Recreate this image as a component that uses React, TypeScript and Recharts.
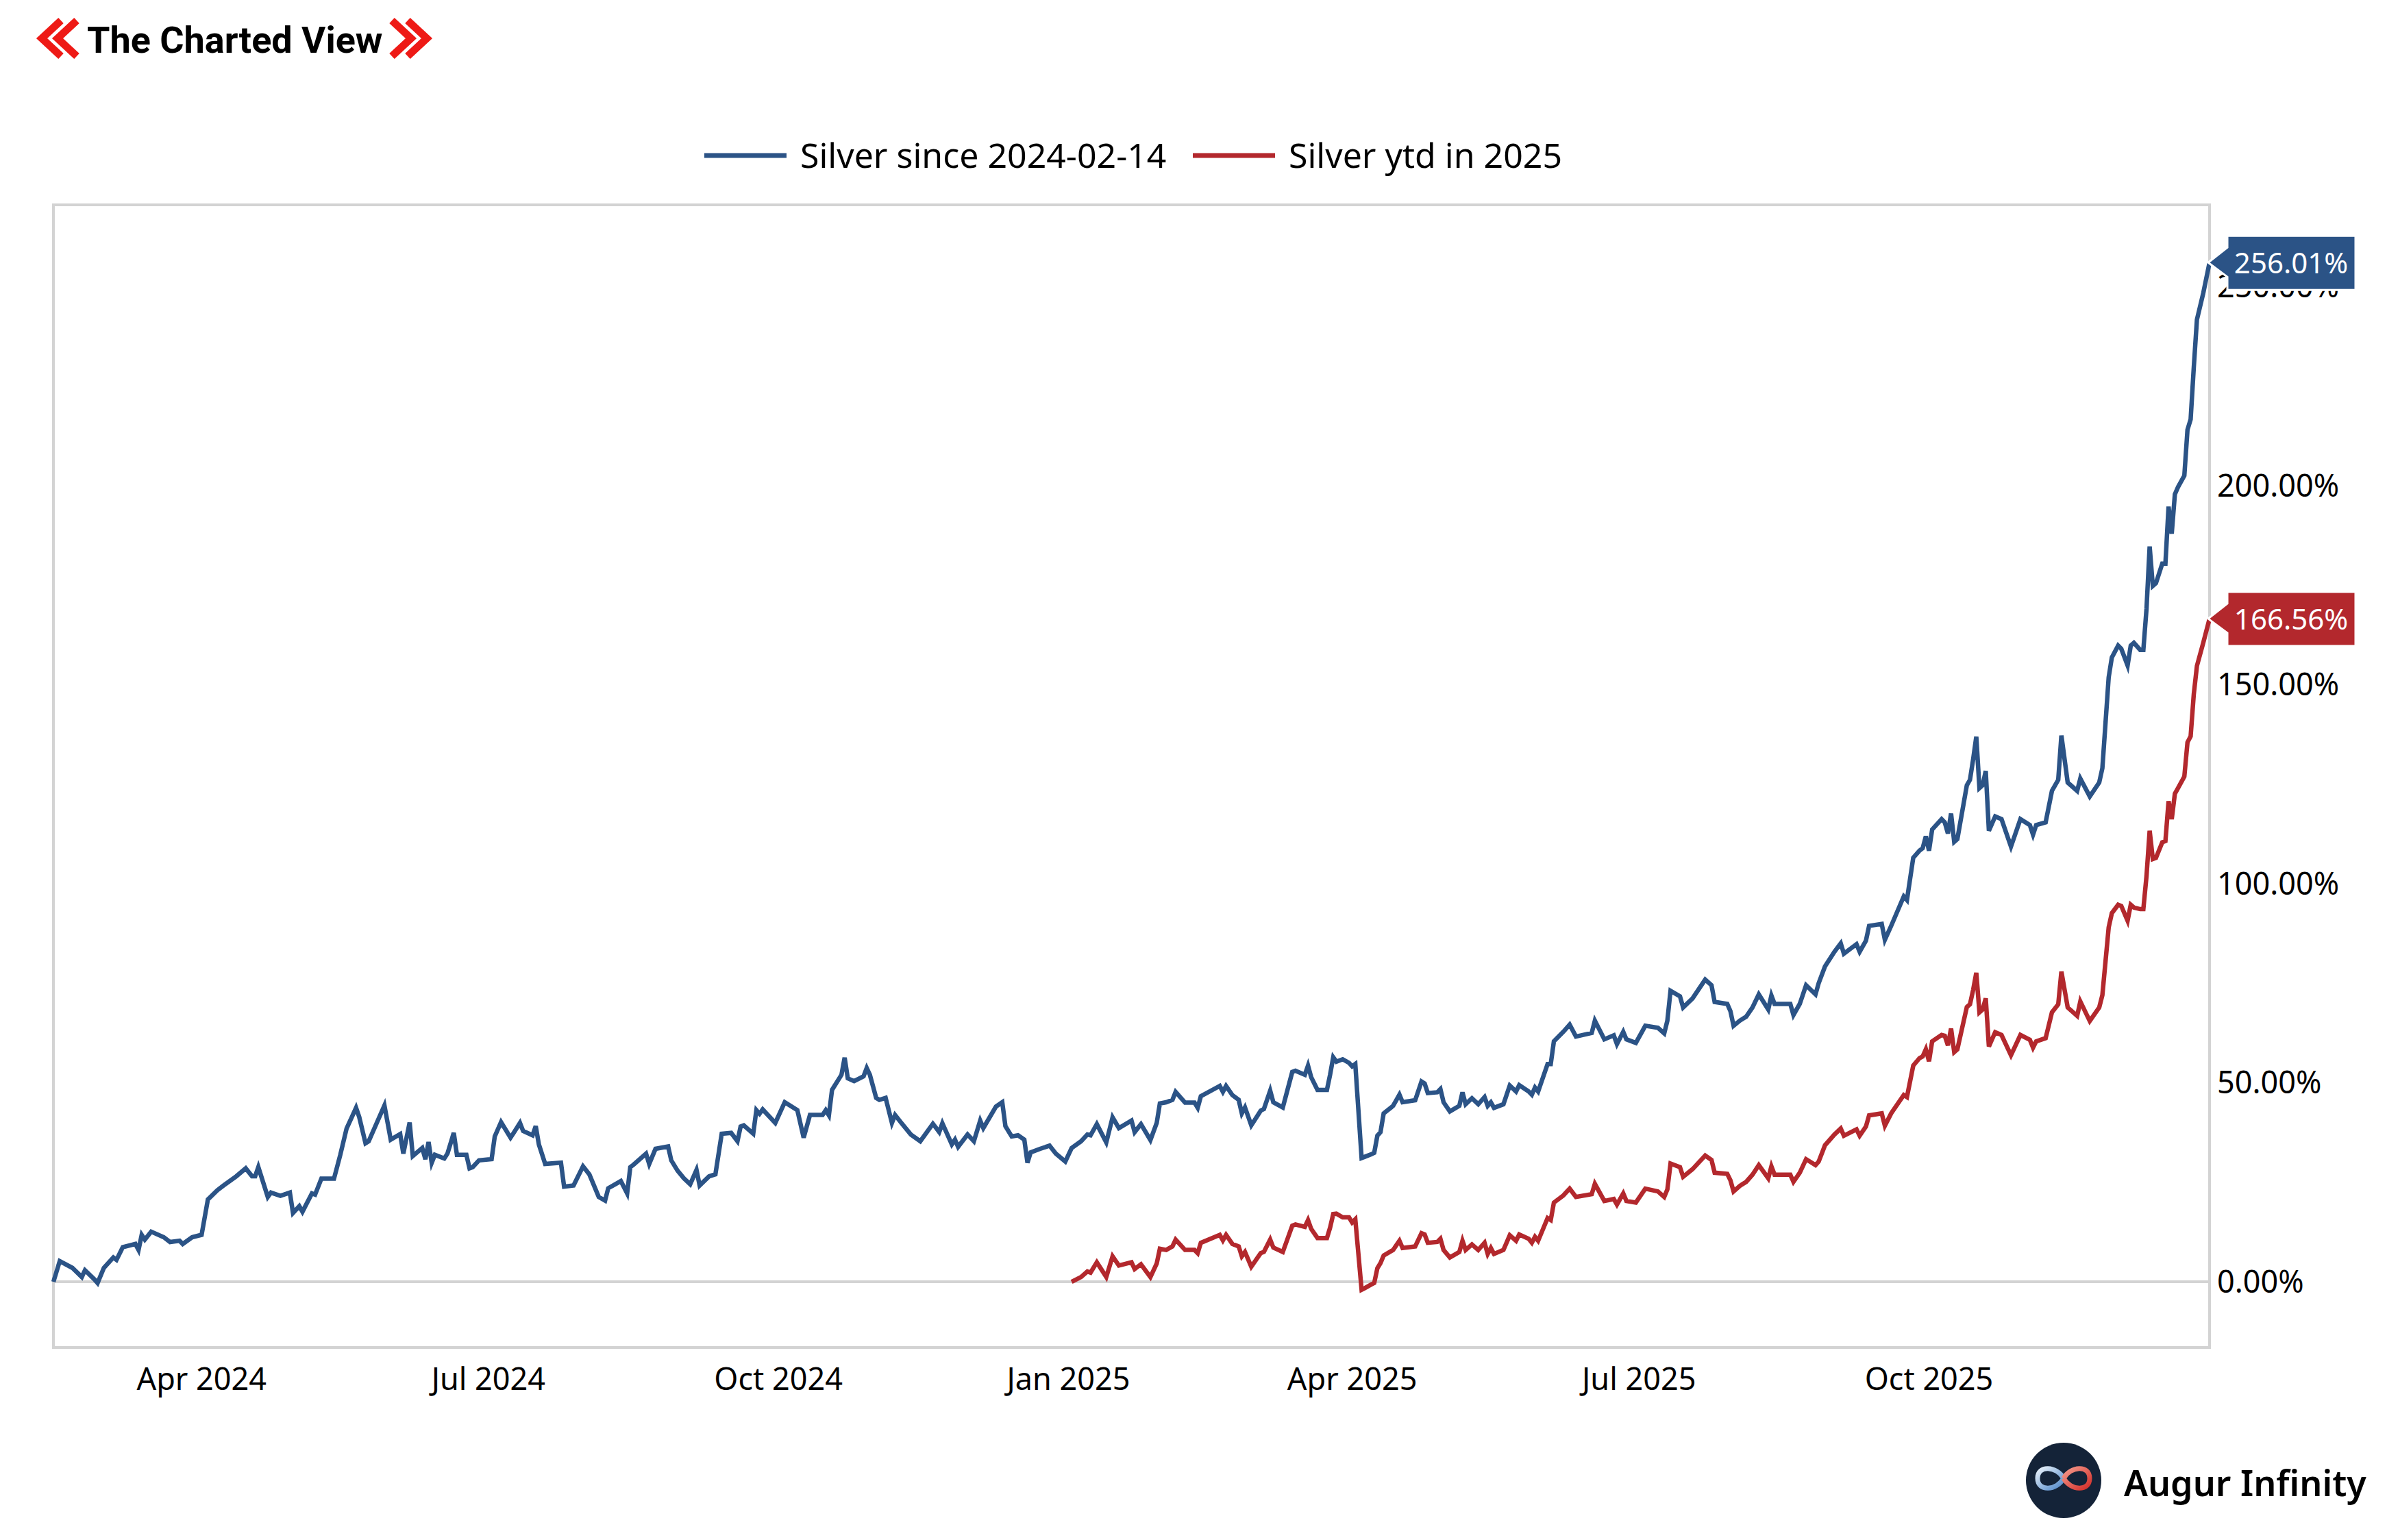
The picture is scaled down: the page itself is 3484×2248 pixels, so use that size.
import { LineChart, Line, XAxis, YAxis, ReferenceLine, ReferenceArea } from "recharts"

const START_DATE = "2024-02-14"
const END_DAY = 684

const seriesNames = ["Silver since 2024-02-14", "Silver ytd in 2025"]
const seriesColors = ["#2b5386", "#b3282d"]

const tickDates = ["2024-04-01", "2024-07-01", "2024-10-01", "2025-01-01", "2025-04-01", "2025-07-01", "2025-10-01"]
const tickLabels = ["Apr 2024", "Jul 2024", "Oct 2024", "Jan 2025", "Apr 2025", "Jul 2025", "Oct 2025"]
const yTicks = [0, 50, 100, 150, 200, 250]

// [days since 2024-02-14, % change]
const silverSince: [number, number][] = [
  [0, 0], [2, 5.2], [6, 3.5], [9, 1.2], [10, 2.9], [13, 0.6], [14, -0.3], [16, 3.5], [19, 6.1], [20, 5.5],
  [22, 8.7], [26, 9.5], [27, 8.0], [28, 11.8], [29, 10.6], [31, 12.6], [35, 11.2], [37, 10.0], [40, 10.3], [41, 9.5],
  [44, 11.2], [47, 11.8], [49, 20.7], [52, 23.0], [54, 24.2], [58, 26.5], [61, 28.5], [63, 26.5], [64, 26.5], [65, 28.8],
  [68, 21.3], [69, 22.4], [72, 21.6], [75, 22.4], [76, 17.3], [78, 19.0], [79, 17.6], [82, 22.2], [83, 21.9], [85, 25.9],
  [89, 25.9], [91, 31.9], [93, 38.5], [96, 43.7], [97, 41.4], [99, 34.8], [100, 35.3], [105, 44.3], [107, 35.7], [110, 37.1],
  [111, 32.2], [113, 40.0], [114, 31.6], [117, 33.6], [118, 30.8], [119, 35.1], [120, 29.9], [121, 31.9], [124, 31.0], [125, 32.2],
  [127, 37.4], [128, 31.9], [131, 31.9], [132, 28.5], [133, 28.8], [135, 30.5], [139, 30.8], [140, 36.5], [142, 40.1], [145, 36.2],
  [146, 37.4], [148, 39.9], [149, 37.9], [152, 36.8], [153, 39.1], [154, 34.5], [156, 29.6], [161, 29.9], [162, 23.9], [165, 24.2],
  [168, 29.0], [170, 27.0], [173, 21.3], [175, 20.4], [176, 23.5], [180, 25.3], [182, 22.2], [183, 28.8], [184, 29.4], [188, 32.2],
  [189, 29.6], [191, 33.4], [195, 34.0], [196, 30.5], [198, 27.9], [200, 26.0], [202, 24.5], [204, 28.1], [205, 24.2], [208, 26.5],
  [210, 27.0], [212, 37.2], [215, 37.4], [217, 35.3], [218, 39.0], [219, 39.3], [222, 37.2], [223, 43.1], [224, 42.2], [225, 43.3],
  [229, 39.9], [232, 45.1], [236, 43.1], [238, 36.2], [240, 41.9], [244, 41.9], [245, 43.1], [246, 41.8], [247, 48.2], [250, 52.0],
  [251, 56.3], [252, 51.1], [254, 50.4], [257, 51.6], [258, 53.7], [259, 52.0], [261, 46.2], [262, 45.7], [264, 46.2], [266, 39.9],
  [267, 41.9], [269, 39.9], [272, 37.0], [275, 35.3], [279, 39.7], [281, 37.6], [282, 39.8], [285, 34.5], [286, 35.7], [287, 33.9],
  [290, 37.0], [292, 35.3], [294, 40.5], [295, 38.6], [299, 44.0], [301, 45.1], [302, 39.1], [304, 36.5], [306, 36.8], [308, 35.7],
  [309, 29.9], [310, 32.5], [313, 33.4], [316, 34.2], [318, 32.2], [321, 30.2], [323, 33.6], [326, 35.3], [328, 37.0], [329, 36.8],
  [331, 39.6], [334, 35.0], [336, 41.3], [338, 38.6], [342, 40.5], [343, 37.6], [345, 39.6], [348, 35.6], [350, 39.9], [351, 44.8],
  [353, 45.1], [355, 45.7], [356, 47.7], [359, 45.0], [362, 45.0], [363, 43.7], [364, 46.6], [370, 49.2], [371, 47.7], [372, 49.2],
  [374, 46.9], [376, 45.7], [377, 42.3], [378, 43.8], [380, 39.3], [383, 43.0], [384, 43.4], [386, 48.0], [387, 45.1], [390, 43.8],
  [393, 52.7], [394, 53.0], [397, 52.0], [398, 54.3], [399, 51.4], [401, 48.2], [404, 48.2], [405, 52.0], [406, 56.4], [407, 55.3],
  [409, 55.9], [411, 55.0], [412, 54.1], [413, 54.7], [415, 31.1], [416, 31.4], [418, 32.0], [419, 32.4], [420, 36.7], [421, 37.6],
  [422, 42.3], [425, 44.2], [427, 47.0], [428, 45.1], [432, 45.6], [434, 50.3], [435, 49.8], [436, 47.4], [439, 47.6], [440, 48.4],
  [441, 45.1], [443, 42.8], [446, 44.2], [447, 47.6], [448, 44.6], [450, 46.1], [452, 44.6], [454, 46.4], [455, 44.2], [456, 45.1],
  [457, 43.7], [460, 44.6], [462, 49.3], [464, 47.8], [465, 49.4], [468, 47.8], [469, 47.0], [470, 48.8], [471, 47.8], [474, 54.7],
  [475, 54.7], [476, 60.4], [479, 62.8], [481, 64.6], [483, 61.6], [488, 62.5], [489, 65.6], [492, 60.9], [495, 61.9], [496, 59.7],
  [498, 62.8], [499, 60.9], [502, 60.0], [505, 64.3], [509, 63.8], [511, 62.4], [512, 65.6], [513, 73.1], [516, 71.7], [517, 68.9],
  [520, 71.2], [524, 75.9], [526, 74.5], [527, 70.3], [531, 69.8], [532, 68.0], [533, 64.3], [535, 65.6], [537, 66.6], [539, 68.9],
  [541, 72.2], [544, 68.4], [545, 71.9], [546, 69.8], [551, 69.8], [552, 67.0], [554, 69.8], [556, 74.5], [559, 72.2], [560, 75.0],
  [562, 79.2], [565, 82.9], [567, 85.0], [568, 82.4], [572, 84.8], [573, 82.9], [575, 85.7], [576, 89.4], [580, 89.9], [581, 85.9],
  [583, 89.4], [587, 96.8], [588, 95.9], [590, 106.5], [592, 108.3], [593, 108.9], [594, 111.9], [595, 108.3], [596, 113.6], [599, 116.2],
  [600, 115.4], [601, 112.6], [602, 117.6], [603, 110.5], [604, 111.2], [607, 124.7], [608, 126.1], [609, 131.2], [610, 136.9], [611, 124.0],
  [612, 124.7], [613, 128.3], [614, 113.3], [616, 116.9], [618, 116.2], [621, 109.3], [624, 116.2], [627, 114.7], [628, 112.3], [629, 114.7],
  [632, 115.4], [634, 123.3], [636, 126.1], [637, 137.2], [639, 125.4], [642, 123.3], [643, 126.4], [646, 121.9], [649, 125.4], [650, 129.0],
  [652, 151.8], [653, 156.8], [655, 159.8], [656, 159.0], [658, 154.8], [659, 159.8], [660, 160.5], [662, 158.7], [663, 158.7], [664, 169.0],
  [665, 184.7], [666, 174.8], [667, 175.5], [669, 180.4], [670, 180.4], [671, 194.7], [672, 187.9], [673, 197.8], [674, 199.6], [676, 202.5],
  [677, 214.0], [678, 216.6], [679, 229.7], [680, 241.7], [682, 248.3], [684, 256.01],
]

const silverYtd: [number, number][] = [
  [323, 0.0], [326, 1.2], [328, 2.6], [329, 2.3], [331, 4.9], [334, 1.2], [336, 6.4], [338, 4.1], [342, 4.9], [343, 3.2],
  [345, 4.4], [348, 1.2], [350, 4.6], [351, 8.3], [353, 8.0], [355, 8.9], [356, 10.6], [359, 8.0], [362, 8.0], [363, 7.2],
  [364, 9.8], [370, 11.8], [371, 10.4], [372, 11.8], [374, 9.5], [376, 8.9], [377, 6.4], [378, 7.5], [380, 3.8], [383, 7.2],
  [384, 7.5], [386, 10.6], [387, 8.6], [390, 7.5], [393, 14.1], [394, 14.4], [397, 13.8], [398, 15.5], [399, 13.3], [401, 11.0],
  [404, 11.0], [405, 13.6], [406, 17.0], [407, 17.1], [409, 16.2], [411, 16.2], [412, 14.9], [413, 15.7], [415, -2.0], [416, -1.6],
  [418, -0.7], [419, -0.3], [420, 3.4], [421, 4.7], [422, 6.6], [425, 8.0], [427, 10.3], [428, 8.5], [432, 8.9], [434, 12.2],
  [435, 11.9], [436, 9.8], [439, 10.0], [440, 10.8], [441, 8.0], [443, 6.1], [446, 7.5], [447, 10.3], [448, 8.0], [450, 9.4],
  [452, 8.0], [454, 9.8], [455, 7.0], [456, 8.5], [457, 7.0], [460, 8.0], [462, 11.7], [464, 10.3], [465, 11.9], [468, 10.8],
  [469, 9.8], [470, 11.3], [471, 10.3], [474, 16.0], [475, 15.5], [476, 19.9], [479, 21.7], [481, 23.4], [483, 21.3], [488, 22.0],
  [489, 24.6], [492, 20.3], [495, 20.8], [496, 19.4], [498, 22.2], [499, 20.3], [502, 19.9], [505, 23.4], [509, 22.7], [511, 21.3],
  [512, 23.2], [513, 29.7], [516, 28.8], [517, 26.4], [520, 28.3], [524, 31.7], [526, 30.6], [527, 27.4], [531, 27.1], [532, 25.5],
  [533, 22.7], [535, 24.1], [537, 25.1], [539, 26.9], [541, 29.3], [544, 26.0], [545, 29.0], [546, 26.9], [551, 26.9], [552, 25.1],
  [554, 27.4], [556, 30.8], [559, 29.3], [560, 30.2], [562, 34.3], [565, 37.0], [567, 38.5], [568, 36.7], [572, 38.3], [573, 36.7],
  [575, 39.0], [576, 41.8], [580, 42.3], [581, 39.2], [583, 42.3], [587, 46.9], [588, 46.4], [590, 54.3], [592, 56.2], [593, 56.6],
  [594, 58.4], [595, 55.4], [596, 60.4], [599, 62.0], [600, 61.8], [601, 59.4], [602, 63.6], [603, 57.7], [604, 58.4], [607, 69.0],
  [608, 69.7], [609, 73.3], [610, 77.6], [611, 67.7], [612, 68.4], [613, 71.2], [614, 59.1], [616, 62.7], [618, 62.0], [621, 56.9],
  [624, 62.0], [627, 60.8], [628, 58.8], [629, 60.4], [632, 61.2], [634, 67.7], [636, 69.7], [637, 77.9], [639, 68.9], [642, 66.8],
  [643, 70.4], [646, 65.5], [649, 68.9], [650, 72.0], [652, 89.0], [653, 92.6], [655, 94.7], [656, 94.4], [658, 90.7], [659, 94.7],
  [660, 94.0], [662, 93.6], [663, 93.6], [664, 101.9], [665, 113.3], [666, 106.2], [667, 106.5], [669, 110.4], [670, 110.7], [671, 120.7],
  [672, 116.2], [673, 122.6], [674, 124.0], [676, 126.9], [677, 135.5], [678, 137.0], [679, 147.6], [680, 154.7], [682, 160.5], [684, 166.56],
]

const dayOf = (iso: string) => (Date.parse(iso) - Date.parse(START_DATE)) / 86400000
const tickDays = tickDates.map(dayOf)

const toRows = (pairs: [number, number][]) => pairs.map(([day, value]) => ({ day, value }))
const sinceData = toRows(silverSince)
const ytdData = toRows(silverYtd)

const FONT = "'Noto Sans', 'Open Sans', sans-serif"

function endLabel(color: string, lastIndex: number) {
  return (props: any) => {
    const { x, y, value, index } = props
    if (index !== lastIndex || x == null || y == null) return <g />
    const pts = [
      [x - 2, y],
      [x + 26, y - 22],
      [x + 26, y - 39],
      [x + 213, y - 39],
      [x + 213, y + 40],
      [x + 26, y + 40],
      [x + 26, y + 21],
    ]
      .map((p) => p.join(","))
      .join(" ")
    return (
      <g>
        <polygon points={pts} fill={color} stroke="#ffffff" strokeWidth={3} />
        <text x={x + 119} y={y + 16} fill="#ffffff" fontSize={42} fontFamily={FONT} textAnchor="middle">
          {`${Number(value).toFixed(2)}%`}
        </text>
      </g>
    )
  }
}

function Overlay() {
  return (
    <svg width={3484} height={2248} style={{ position: "absolute", left: 0, top: 0, pointerEvents: "none" }}>
      <defs>
        <linearGradient id="loopL" x1="0" y1="0" x2="1" y2="1">
          <stop offset="0%" stopColor="#e8f1fa" />
          <stop offset="100%" stopColor="#4d86c8" />
        </linearGradient>
        <linearGradient id="loopR" x1="0" y1="0" x2="1" y2="1">
          <stop offset="0%" stopColor="#f49a8c" />
          <stop offset="100%" stopColor="#d3302b" />
        </linearGradient>
      </defs>

      {/* header */}
      <g fill="none" stroke="#ee1a16" strokeWidth={11} strokeLinejoin="miter">
        <polyline points="89,30 61,56 89,82" />
        <polyline points="112,30 84,56 112,82" />
        <polyline points="572,30 600,56 572,82" />
        <polyline points="595,30 623,56 595,82" />
      </g>
      <text x={127} y={77} fontFamily="Roboto, sans-serif" fontWeight={700} fontSize={54} fill="#000">
        The Charted View
      </text>

      {/* legend */}
      <line x1={1028} y1={227} x2={1148} y2={227} stroke={seriesColors[0]} strokeWidth={7} />
      <text x={1168} y={245} fontFamily={FONT} fontSize={50} fill="#000">
        {seriesNames[0]}
      </text>
      <line x1={1741} y1={227} x2={1861} y2={227} stroke={seriesColors[1]} strokeWidth={7} />
      <text x={1881} y={245} fontFamily={FONT} fontSize={50} fill="#000">
        {seriesNames[1]}
      </text>

      {/* logo */}
      <circle cx={3012} cy={2161} r={55} fill="#142338" />
      <path d="M3012,2158 C3002,2140 2974,2138 2974,2158 C2974,2178 3002,2176 3012,2158" fill="none" stroke="url(#loopL)" strokeWidth={7} />
      <path d="M3012,2158 C3022,2140 3050,2138 3050,2158 C3050,2178 3022,2176 3012,2158" fill="none" stroke="url(#loopR)" strokeWidth={7} />
      <text x={3100} y={2184} fontFamily={FONT} fontWeight={600} fontSize={52} fill="#000">
        Augur Infinity
      </text>
    </svg>
  )
}

export default function App() {
  return (
    <div style={{ position: "relative", width: 3484, height: 2248, background: "#fff", fontFamily: FONT }}>
      <style>{"body{margin:0}"}</style>
      <LineChart width={3484} height={2248} margin={{ top: 299, right: 59, bottom: 181, left: 78 }}>
        <XAxis
          type="number"
          dataKey="day"
          domain={[0, END_DAY]}
          ticks={tickDays}
          interval={0}
          tickFormatter={(d: number) => tickLabels[tickDays.indexOf(d)] ?? ""}
          axisLine={false}
          tickLine={false}
          tickSize={0}
          tickMargin={30}
          height={100}
          tick={{ fill: "#000", fontSize: 45, fontFamily: FONT }}
        />
        <YAxis
          orientation="right"
          type="number"
          domain={[-16.5, 270.5]}
          ticks={yTicks}
          interval={0}
          tickFormatter={(v: number) => `${v.toFixed(2)}%`}
          axisLine={false}
          tickLine={false}
          tickSize={0}
          tickMargin={11}
          width={200}
          tick={{ fill: "#000", fontSize: 45, fontFamily: FONT, textAnchor: "start" }}
        />
        <ReferenceArea x1={0} x2={END_DAY} y1={-16.5} y2={270.5} fill="none" fillOpacity={0} stroke="#d3d3d3" strokeWidth={4} />
        <ReferenceLine y={0} stroke="#d3d3d3" strokeWidth={4} />
        <Line
          data={sinceData}
          dataKey="value"
          name={seriesNames[0]}
          type="linear"
          stroke={seriesColors[0]}
          strokeWidth={6.5}
          dot={false}
          activeDot={false}
          isAnimationActive={false}
          label={endLabel(seriesColors[0], sinceData.length - 1)}
        />
        <Line
          data={ytdData}
          dataKey="value"
          name={seriesNames[1]}
          type="linear"
          stroke={seriesColors[1]}
          strokeWidth={6.5}
          dot={false}
          activeDot={false}
          isAnimationActive={false}
          label={endLabel(seriesColors[1], ytdData.length - 1)}
        />
      </LineChart>
      <Overlay />
    </div>
  )
}
